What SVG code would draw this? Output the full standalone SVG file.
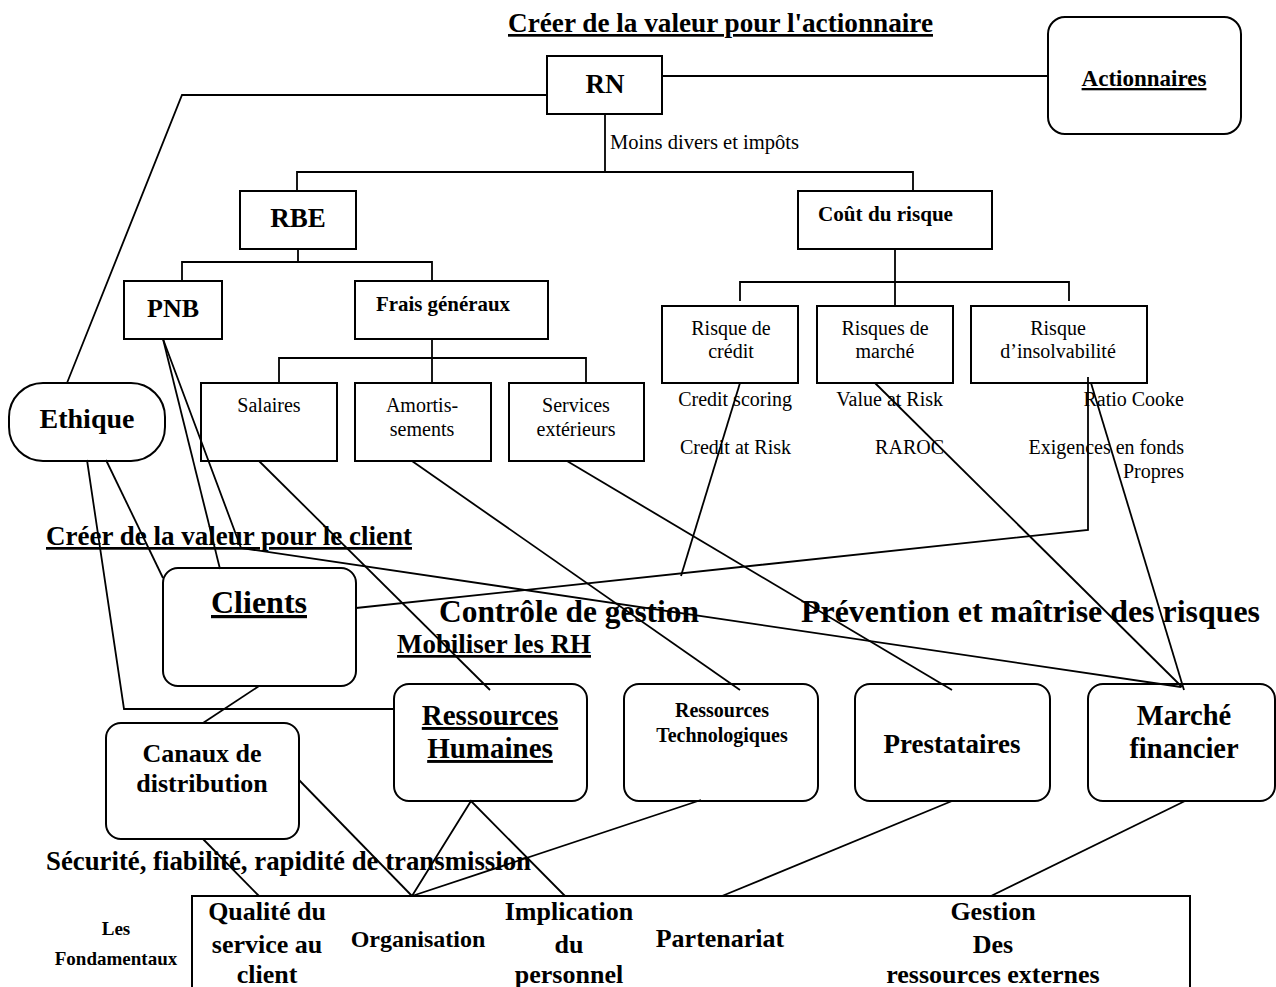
<svg xmlns="http://www.w3.org/2000/svg" width="1276" height="987" viewBox="0 0 1276 987">
<style>
.b{font-family:"Liberation Serif","Times New Roman",serif;font-weight:bold;fill:#000}
.r{font-family:"Liberation Serif","Times New Roman",serif;font-weight:normal;fill:#000;font-size:20px}
.m{text-anchor:middle}
.e{text-anchor:end}
.u{text-decoration:underline}
.box{fill:#fff;stroke:#000;stroke-width:2}
.ln{fill:none;stroke:#000;stroke-width:1.8}
</style>
<rect width="1276" height="987" fill="#fff"/>

<!-- free titles -->
<text class="b u" x="508" y="32" font-size="27" textLength="425" lengthAdjust="spacingAndGlyphs">Créer de la valeur pour l'actionnaire</text>
<text class="r" x="610" y="149" textLength="189" lengthAdjust="spacingAndGlyphs">Moins divers et impôts</text>
<text class="r e" x="792" y="406">Credit scoring</text>
<text class="r e" x="791" y="454">Credit at Risk</text>
<text class="r e" x="943" y="406">Value at Risk</text>
<text class="r e" x="944" y="454">RAROC</text>
<text class="r e" x="1184" y="406">Ratio Cooke</text>
<text class="r e" x="1184" y="454">Exigences en fonds</text>
<text class="r e" x="1184" y="478">Propres</text>
<text class="b u" x="46" y="545" font-size="27" textLength="366" lengthAdjust="spacingAndGlyphs">Créer de la valeur pour le client</text>
<text class="b" x="439" y="622" font-size="31.5" textLength="260" lengthAdjust="spacingAndGlyphs">Contrôle de gestion</text>
<text class="b" x="801" y="622" font-size="32" textLength="459" lengthAdjust="spacingAndGlyphs">Prévention et maîtrise des risques</text>
<text class="b u" x="397" y="653" font-size="27" textLength="194" lengthAdjust="spacingAndGlyphs">Mobiliser les RH</text>
<text class="b" x="46" y="870" font-size="27" textLength="485" lengthAdjust="spacingAndGlyphs">Sécurité, fiabilité, rapidité de transmission</text>

<!-- nodes -->
<g id="rn"><rect class="box" x="547" y="56" width="115" height="58"/><text class="b m" x="605" y="93" font-size="27">RN</text></g>
<g id="actionnaires"><rect class="box" x="1048" y="17" width="193" height="117" rx="17"/><text class="b m u" x="1144" y="86" font-size="23">Actionnaires</text></g>
<g id="rbe"><rect class="box" x="240" y="191" width="116" height="58"/><text class="b m" x="298" y="227" font-size="27">RBE</text></g>
<g id="cout"><rect class="box" x="798" y="191" width="194" height="58"/><text class="b" x="818" y="221" font-size="21" textLength="135" lengthAdjust="spacingAndGlyphs">Coût du risque</text></g>
<g id="pnb"><rect class="box" x="124" y="281" width="98" height="58"/><text class="b m" x="173" y="317" font-size="26">PNB</text></g>
<g id="frais"><rect class="box" x="355" y="281" width="193" height="58"/><text class="b" x="376" y="311" font-size="21" textLength="134" lengthAdjust="spacingAndGlyphs">Frais généraux</text></g>
<g id="salaires"><rect class="box" x="201" y="383" width="136" height="78"/><text class="r m" x="269" y="412">Salaires</text></g>
<g id="amortissements"><rect class="box" x="355" y="383" width="136" height="78"/><text class="r m" x="422" y="412">Amortis-</text><text class="r m" x="422" y="436">sements</text></g>
<g id="services"><rect class="box" x="509" y="383" width="135" height="78"/><text class="r m" x="576" y="412">Services</text><text class="r m" x="576" y="436">extérieurs</text></g>
<g id="credit"><rect class="box" x="662" y="306" width="136" height="77"/><text class="r m" x="731" y="335">Risque de</text><text class="r m" x="731" y="358">crédit</text></g>
<g id="marche"><rect class="box" x="817" y="306" width="136" height="77"/><text class="r m" x="885" y="335">Risques de</text><text class="r m" x="885" y="358">marché</text></g>
<g id="insolvabilite"><rect class="box" x="971" y="306" width="176" height="77"/><text class="r m" x="1058" y="335">Risque</text><text class="r m" x="1058" y="358">d’insolvabilité</text></g>
<g id="ethique"><rect class="box" x="9" y="383" width="156" height="78" rx="34"/><text class="b m" x="87" y="428" font-size="28">Ethique</text></g>
<g id="clients"><rect class="box" x="163" y="568" width="193" height="118" rx="15"/><text class="b m u" x="259" y="613" font-size="32">Clients</text></g>
<g id="canaux"><rect class="box" x="106" y="723" width="193" height="116" rx="15"/><text class="b m" x="202" y="762" font-size="26">Canaux de</text><text class="b m" x="202" y="792" font-size="26">distribution</text></g>
<g id="rh"><rect class="box" x="394" y="684" width="193" height="117" rx="15"/><text class="b m u" x="490" y="725" font-size="29">Ressources</text><text class="b m u" x="490" y="758" font-size="29">Humaines</text></g>
<g id="rt"><rect class="box" x="624" y="684" width="194" height="117" rx="15"/><text class="b m" x="722" y="717" font-size="20">Ressources</text><text class="b m" x="722" y="742" font-size="20">Technologiques</text></g>
<g id="prestataires"><rect class="box" x="855" y="684" width="195" height="117" rx="15"/><text class="b m" x="952" y="753" font-size="27">Prestataires</text></g>
<g id="marchefin"><rect class="box" x="1088" y="684" width="187" height="117" rx="15"/><text class="b m" x="1184" y="725" font-size="28.5">Marché</text><text class="b m" x="1184" y="758" font-size="28.5">financier</text></g>
<g id="fondamentaux">
<rect class="box" x="192" y="896" width="998" height="110"/>
<text class="b m" x="116" y="935" font-size="19">Les</text><text class="b m" x="116" y="965" font-size="19">Fondamentaux</text>
<text class="b m" x="267" y="920" font-size="26">Qualité du</text><text class="b m" x="267" y="953" font-size="26">service au</text><text class="b m" x="267" y="983" font-size="26">client</text>
<text class="b m" x="418" y="947" font-size="24">Organisation</text>
<text class="b m" x="569" y="920" font-size="26">Implication</text><text class="b m" x="569" y="953" font-size="26">du</text><text class="b m" x="569" y="983" font-size="26">personnel</text>
<text class="b m" x="720" y="947" font-size="26">Partenariat</text>
<text class="b m" x="993" y="920" font-size="26">Gestion</text><text class="b m" x="993" y="953" font-size="26">Des</text><text class="b m" x="993" y="983" font-size="26">ressources externes</text>
</g>

<!-- connectors -->
<g id="connectors" class="ln">
<polyline points="67,383 182,95 547,95"/>
<line x1="662" y1="76" x2="1048" y2="76"/>
<line x1="605" y1="114" x2="605" y2="172"/>
<polyline points="297,191 297,172 913,172 913,191"/>
<line x1="298" y1="249" x2="298" y2="262"/>
<polyline points="182,281 182,262 432,262 432,281"/>
<line x1="432" y1="339" x2="432" y2="383"/>
<polyline points="279,383 279,358 586,358 586,383"/>
<line x1="895" y1="249" x2="895" y2="306"/>
<polyline points="740,301 740,282 1069,282 1069,301"/>
<line x1="740" y1="383" x2="681" y2="576"/>
<line x1="875" y1="383" x2="1182" y2="687"/>
<polyline points="1088,377 1088,530 356,608"/>
<line x1="1091" y1="383" x2="1184" y2="690"/>
<line x1="163" y1="339" x2="220" y2="569"/>
<polyline points="163,339 241,548 1181,687"/>
<polyline points="87,460 124,709 394,709"/>
<line x1="106" y1="460" x2="163" y2="578"/>
<line x1="259" y1="461" x2="490" y2="690"/>
<line x1="412" y1="461" x2="740" y2="690"/>
<line x1="567" y1="461" x2="952" y2="690"/>
<line x1="259" y1="686" x2="203" y2="723"/>
<line x1="299" y1="780" x2="412" y2="896"/>
<polyline points="412,896 471,801 565,896"/>
<line x1="701" y1="800" x2="412" y2="896"/>
<line x1="952" y1="801" x2="722" y2="896"/>
<line x1="1185" y1="801" x2="991" y2="896"/>
<line x1="203" y1="839" x2="259" y2="896"/>
</g>
</svg>
